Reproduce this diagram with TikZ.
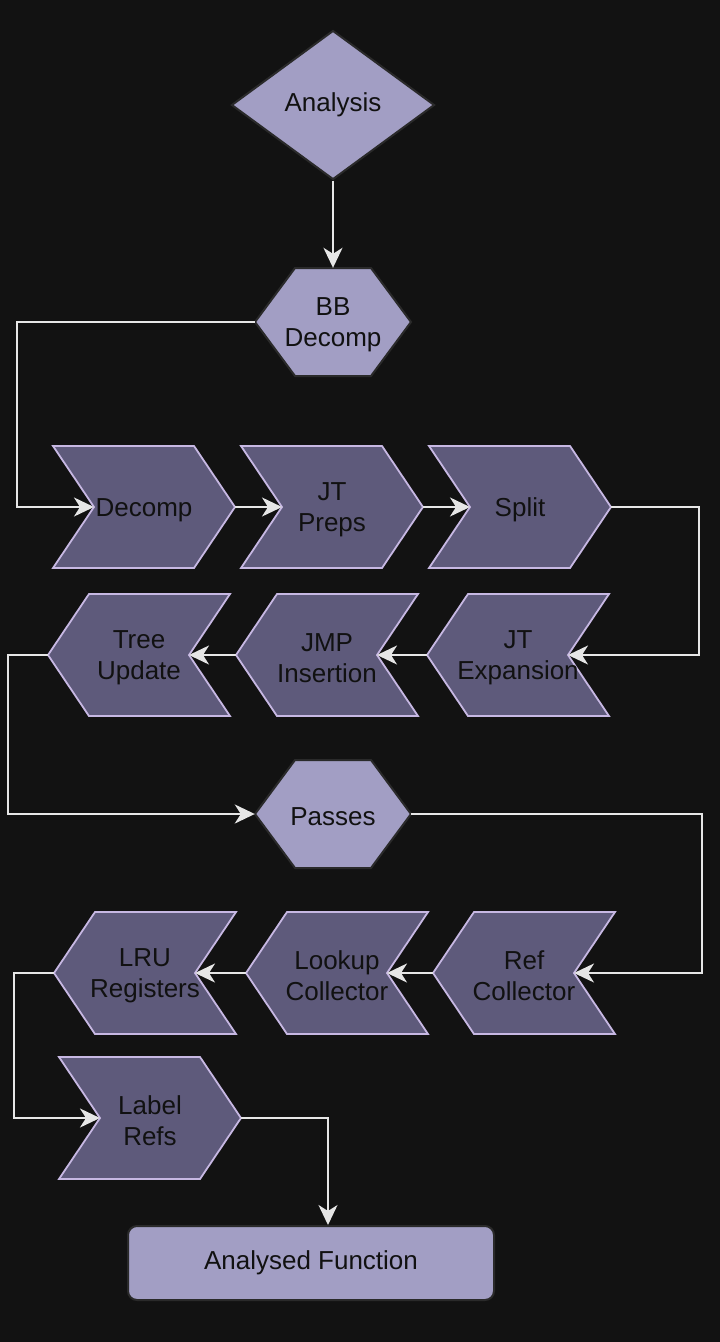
\documentclass[tikz,border=0pt]{standalone}
\usepackage{fontspec}
\setmainfont{Liberation Sans}
\usetikzlibrary{shapes.geometric,arrows.meta}
\definecolor{bg}{HTML}{121212}
\definecolor{lightfill}{HTML}{A29EC4}
\definecolor{darkfill}{HTML}{5E5A7B}
\definecolor{chevline}{HTML}{C7B8E3}
\definecolor{outl}{HTML}{2A2A2A}
\definecolor{txt}{HTML}{111111}
\definecolor{wire}{HTML}{E6E6E6}
\tikzset{
  every node/.style={font=\fontsize{26}{31}\selectfont, text=txt, align=center},
  every label/.style={font=\fontsize{26}{31}\selectfont, text=txt, align=center, inner sep=0pt},
  chevshape/.style={fill=darkfill, draw=chevline, line width=1.8pt, line join=miter},
  lightshape/.style={fill=lightfill, draw=outl, line width=2pt},
  chevbox/.style={inner sep=0pt, minimum width=182pt, minimum height=122pt},
  arr/.style={draw=wire, line width=2pt, -{Stealth[length=20pt,width=19pt,inset=6pt]}},
}
\newcommand\chevR[4]{%
  \filldraw[chevshape] ({#2-91},{#3-61}) -- ({#2+50},{#3-61}) -- ({#2+91},#3) -- ({#2+50},{#3+61}) -- ({#2-91},{#3+61}) -- ({#2-50},#3) -- cycle;
  \node[chevbox, label={[yshift=-3pt]center:#4}] (#1) at (#2,#3) {};
  \coordinate (#1-in) at ({#2-50},#3);}
\newcommand\chevL[4]{%
  \filldraw[chevshape] ({#2-50},{#3-61}) -- ({#2+91},{#3-61}) -- ({#2+50},#3) -- ({#2+91},{#3+61}) -- ({#2-50},{#3+61}) -- ({#2-91},#3) -- cycle;
  \node[chevbox, label={[yshift=-3pt]center:#4}] (#1) at (#2,#3) {};
  \coordinate (#1-in) at ({#2+50},#3);}
\newcommand\hexa[4]{%
  \filldraw[lightshape] ({#2-78},#3) -- ({#2-38},{#3-54}) -- ({#2+38},{#3-54}) -- ({#2+78},#3) -- ({#2+38},{#3+54}) -- ({#2-38},{#3+54}) -- cycle;
  \node[inner sep=0pt, minimum width=156pt, minimum height=108pt, label={[yshift=-3pt]center:#4}] (#1) at (#2,#3) {};}
\begin{document}
\begin{tikzpicture}[x=1pt, y=-1pt]
\fill[bg] (0,0) rectangle (720,1342);
\useasboundingbox (0,0) rectangle (720,1342);

\node[diamond, lightshape, inner sep=0pt, aspect=1.36, minimum width=203pt, minimum height=149pt] (analysis) at (333,105) {Analysis};
\hexa{bb}{333}{322}{BB\\Decomp}

\chevR{decomp}{144}{507}{Decomp}
\chevR{jtpreps}{332}{507}{JT\\Preps}
\chevR{split}{520}{507}{Split}

\chevL{jtexp}{518}{655}{JT\\Expansion}
\chevL{jmp}{327}{655}{JMP\\Insertion}
\chevL{tree}{139}{655}{Tree\\Update}

\hexa{passes}{333}{814}{Passes}

\chevL{ref}{524}{973}{Ref\\Collector}
\chevL{lookup}{337}{973}{Lookup\\Collector}
\chevL{lru}{145}{973}{LRU\\Registers}

\chevR{label}{150}{1118}{Label\\Refs}

\node[lightshape, rounded corners=9pt, inner sep=0pt, minimum width=366pt, minimum height=74pt] (af) at (311,1263) {Analysed Function};

\draw[arr] (analysis.south) -- (bb.north);
\draw[arr] (bb.west) -- ++(-238,0) |- (decomp-in);
\draw[arr] (decomp.east) -- (jtpreps-in);
\draw[arr] (jtpreps.east) -- (split-in);
\draw[arr] (split.east) -- ++(88,0) |- (jtexp-in);
\draw[arr] (jtexp.west) -- (jmp-in);
\draw[arr] (jmp.west) -- (tree-in);
\draw[arr] (tree.west) -- ++(-40,0) |- (passes.west);
\draw[arr] (passes.east) -- ++(291,0) |- (ref-in);
\draw[arr] (ref.west) -- (lookup-in);
\draw[arr] (lookup.west) -- (lru-in);
\draw[arr] (lru.west) -- ++(-40,0) |- (label-in);
\draw[arr] (label.east) -| ([xshift=17pt]af.north);
\end{tikzpicture}
\end{document}
